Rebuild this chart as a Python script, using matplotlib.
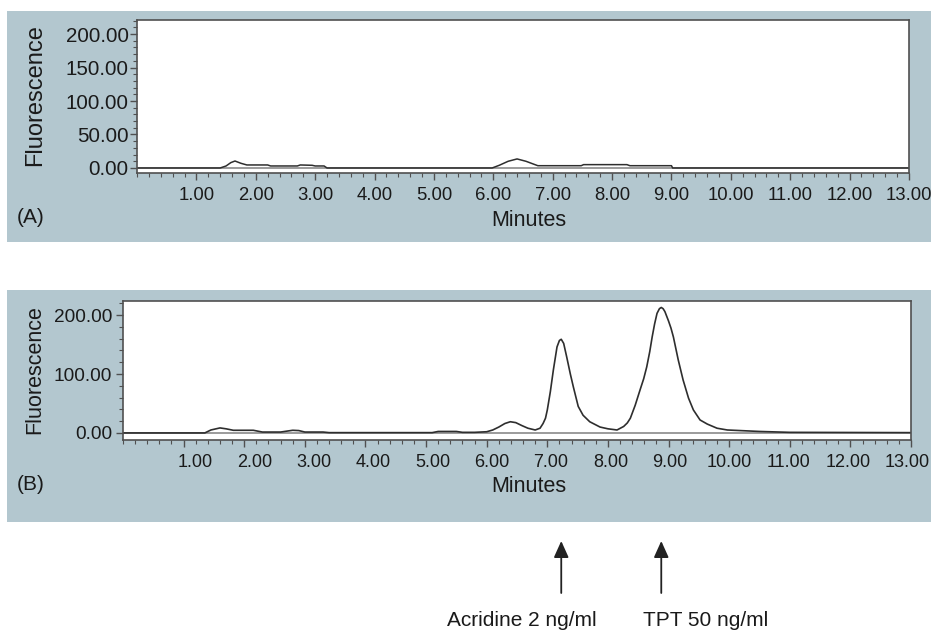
import matplotlib
matplotlib.use("Agg")
import matplotlib.pyplot as plt
import matplotlib.patches as patches
import matplotlib.transforms as mtransforms
from matplotlib.ticker import MultipleLocator

plt.rcParams['font.family'] = ['Liberation Sans', 'DejaVu Sans']

# chromatogram A (blank)
time_a = [0.0, 1.40, 1.50, 1.58, 1.65, 1.75, 1.85, 2.20, 2.25, 2.70, 2.75, 2.95, 3.00, 3.15, 3.20,
          5.98, 6.10, 6.25, 6.40, 6.55, 6.75, 7.48, 7.52, 8.25, 8.30, 9.00, 9.02, 13.0]
fluor_a = [0.0, 0.0, 3.0, 8.0, 10.4, 7.0, 4.5, 4.5, 3.0, 3.0, 4.5, 4.0, 3.0, 3.0, 0.0,
           0.0, 4.0, 10.0, 13.5, 10.0, 3.4, 3.4, 5.0, 5.0, 3.4, 3.4, 0.0, 0.0]

# chromatogram B (spiked sample)
time_b = [0.0, 1.35, 1.45, 1.60, 1.70, 1.82, 2.15, 2.30, 2.60, 2.70, 2.80, 2.90, 3.00, 3.30, 3.40, 3.80,
          3.90, 5.10, 5.20, 5.50, 5.60, 5.80, 6.00, 6.10, 6.20, 6.30, 6.39, 6.48, 6.58, 6.68, 6.80,
          6.88, 6.93, 6.97, 7.00, 7.05, 7.10, 7.16, 7.20, 7.23, 7.27, 7.32, 7.38, 7.43, 7.51, 7.59,
          7.70, 7.87, 8.00, 8.15, 8.26, 8.32, 8.37, 8.45, 8.53, 8.59, 8.64, 8.69, 8.73, 8.77, 8.81,
          8.85, 8.88, 8.91, 8.94, 9.00, 9.04, 9.08, 9.16, 9.24, 9.33, 9.41, 9.52, 9.64, 9.80, 9.97,
          10.5, 11.0, 13.0]
fluor_b = [0.0, 0.0, 5.0, 8.5, 7.0, 4.5, 4.5, 1.5, 1.5, 3.0, 4.5, 4.0, 1.5, 1.5, 0.5, 0.5,
           0.5, 0.5, 2.5, 2.5, 1.0, 1.0, 2.0, 5.0, 10.0, 16.0, 19.0, 17.5, 12.5, 8.0, 5.0,
           8.0, 16.0, 25.0, 39.0, 70.0, 107.0, 146.0, 157.0, 159.0, 152.0, 129.0, 100.0, 78.0, 45.0, 30.0,
           19.0, 10.0, 7.0, 5.0, 11.0, 17.0, 25.0, 47.0, 73.0, 92.0, 112.0, 138.0, 163.0, 185.0, 203.0,
           211.0, 213.0, 211.0, 206.0, 190.0, 178.0, 163.0, 124.0, 90.0, 59.0, 39.0, 22.0, 15.0, 8.0, 5.0,
           2.5, 1.0, 0.5]

x_ticks = list(range(1, 14))
peak_labels = ["Acridine 2 ng/ml", "TPT 50 ng/ml"]
peak_times = [7.23, 8.88]

bg = "#b3c7cf"
frame = "#505050"
trace = "#2e2e2e"
ink = "#1a1a1a"

W, H = 932, 631
fig = plt.figure(figsize=(W / 100, H / 100), dpi=100)
fig.patch.set_facecolor("white")


def fx(px):
    return px / W


def fy(py):
    return 1 - py / H


# grey panel backgrounds
for top, bottom in [(11, 242), (290, 522)]:
    fig.patches.append(patches.Rectangle((fx(7), fy(bottom)), fx(924), (bottom - top) / H,
                                         transform=fig.transFigure, facecolor=bg,
                                         edgecolor="none", zorder=-1))


def setup(ax, ylim, ymajor, yminor, xsize, ysize, ypad):
    ax.set_xlim(0, 13)
    ax.set_ylim(*ylim)
    ax.set_facecolor("white")
    for s in ax.spines.values():
        s.set_color(frame)
        s.set_linewidth(1.2)
    ax.xaxis.set_minor_locator(MultipleLocator(0.2))
    ax.yaxis.set_minor_locator(MultipleLocator(yminor))
    ax.set_xticks(x_ticks)
    ax.set_xticklabels([f"{v:.2f}" for v in x_ticks])
    ax.set_yticks(range(0, 201, ymajor))
    ax.set_yticklabels([f"{v:.2f}" for v in range(0, 201, ymajor)])
    ax.tick_params(which="major", direction="out", length=5, width=1, color=frame,
                   labelcolor=ink)
    ax.tick_params(axis="x", which="major", labelsize=xsize, pad=5)
    ax.tick_params(axis="y", which="major", labelsize=ysize, pad=ypad)
    ax.tick_params(which="minor", direction="out", length=3, width=0.8, color=frame)
    ax.axhline(0, color="#8a8a8a", lw=1.2, zorder=1)


axA = fig.add_axes([fx(137), fy(173), fx(909 - 137), (173 - 20) / H])
setup(axA, (-7.5, 221), 50, 10, 13.3, 14.8, 1)
axA.plot(time_a, fluor_a, color=trace, lw=1.1, zorder=2)

axB = fig.add_axes([fx(123), fy(440), fx(911 - 123), (440 - 301) / H])
setup(axB, (-12, 224), 100, 20, 13, 13.7, 3)
axB.plot(time_b, fluor_b, color=trace, lw=1.2, zorder=2)
# x tick labels in B are spaced slightly tighter than their ticks
for v, lab in zip(x_ticks, axB.get_xticklabels()):
    dx = (12.7 - 1.27 * v) / 100
    lab.set_transform(lab.get_transform() + mtransforms.ScaledTranslation(dx, 0, fig.dpi_scale_trans))

for ycen, ytxt, name, fsz in [(95, 220, "(A)", 17), (370, 487, "(B)", 15.5)]:
    fig.text(fx(35), fy(ycen), "Fluorescence", rotation=90, ha="center", va="center",
             fontsize=fsz, color=ink)
    fig.text(fx(529), fy(ytxt), "Minutes", ha="center", va="center", fontsize=15.5,
             color=ink)
    fig.text(fx(17), fy(ytxt - 2), name, ha="left", va="center", fontsize=15,
             color=ink)

# arrows pointing at the peaks, under panel B
blend = mtransforms.blended_transform_factory(axB.transData, fig.transFigure)
for t, lab, ha, dx in zip(peak_times, peak_labels, ["right", "left"], [0.58, -0.3]):
    axB.annotate("", xy=(t, fy(541)), xytext=(t, fy(593)), xycoords=blend, textcoords=blend,
                 arrowprops=dict(arrowstyle="-|>,head_length=1.0,head_width=0.45",
                                 color="#222222", lw=1.3, shrinkA=0, shrinkB=0),
                 annotation_clip=False)
    axB.text(t + dx, fy(621), lab, transform=blend, ha=ha, va="center", fontsize=15,
             color=ink)

fig.savefig("out.png", dpi=100)
